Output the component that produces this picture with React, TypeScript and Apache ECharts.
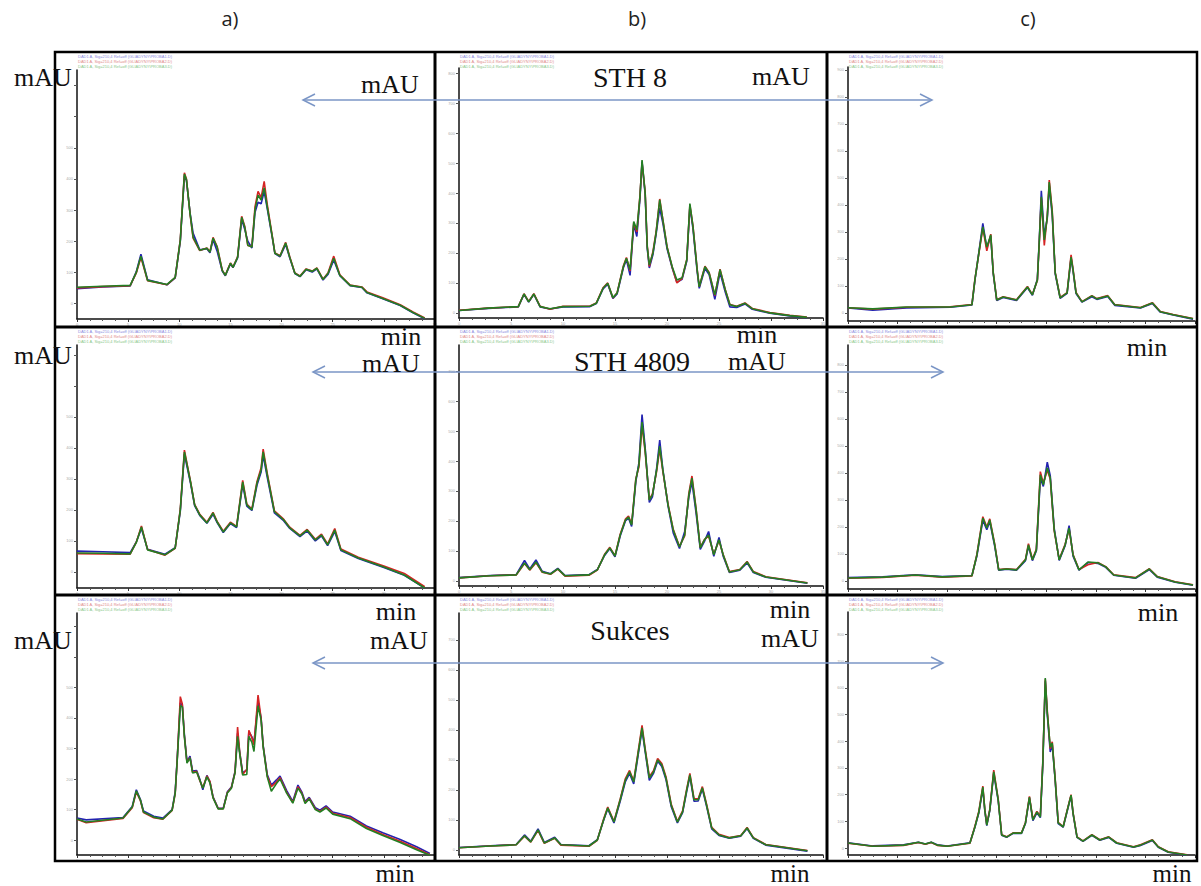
import React, { useEffect, useRef } from "react";
import * as echarts from "echarts";

// ---------- data (time in min, absorbance in mAU) ----------
const T_A1 = [0, 2.5, 5.2, 5.8, 6.25, 6.9, 8.8, 9.6, 10.1, 10.5, 10.7, 11.05, 11.35, 12.0, 12.7, 13.0, 13.3, 13.7, 14.2, 14.5, 15.0, 15.25, 15.7, 16.1, 16.4, 16.7, 17.1, 17.4, 17.7, 18.0, 18.3, 18.6, 19.1, 19.35, 19.85, 20.4, 20.8, 21.3, 21.8, 22.4, 23.0, 23.45, 24.05, 24.55, 25.1, 25.7, 26.7, 27.85, 28.35, 29.9, 31.6, 32.85, 34.0];
const A1_BLUE = [47, 53, 56, 102, 158, 76, 60, 82, 200, 410, 395, 292, 226, 172, 176, 163, 205, 168, 104, 89, 127, 115, 146, 270, 238, 200, 178, 292, 325, 320, 360, 305, 210, 160, 150, 190, 146, 96, 86, 108, 101, 111, 75, 94, 140, 89, 57, 51, 34, 15, -7, -30, -49];
const A1_RED = [50, 54, 57, 98, 148, 73, 60, 83, 205, 420, 400, 288, 210, 170, 178, 166, 212, 183, 107, 91, 130, 117, 150, 280, 248, 186, 183, 310, 360, 340, 392, 318, 215, 162, 153, 196, 150, 98, 88, 111, 104, 114, 78, 99, 152, 92, 59, 53, 37, 18, -4, -27, -47];
const A1_GREEN = [52, 55, 58, 100, 152, 74, 61, 84, 203, 416, 398, 290, 213, 171, 177, 165, 210, 181, 106, 90, 129, 116, 148, 277, 245, 187, 181, 300, 348, 332, 371, 310, 213, 161, 152, 194, 148, 97, 87, 110, 103, 113, 77, 97, 145, 90, 58, 52, 35, 16, -6, -29, -48];

const T_B1 = [0, 2.8, 5.7, 6.25, 6.7, 7.2, 7.8, 8.75, 10.0, 12.6, 13.2, 13.85, 14.3, 14.8, 15.2, 15.8, 16.1, 16.45, 16.8, 17.1, 17.4, 17.6, 17.9, 18.1, 18.3, 18.65, 18.95, 19.3, 19.6, 20.0, 20.5, 20.95, 21.45, 21.9, 22.2, 22.5, 22.9, 23.1, 23.65, 24.05, 24.6, 25.1, 25.6, 26.05, 26.7, 27.5, 28.2, 29.9, 31.8, 33.45];
const B1_BLUE = [8, 15, 20, 62, 36, 62, 20, 13, 20, 21, 31, 80, 96, 48, 63, 150, 178, 125, 295, 255, 380, 505, 395, 215, 150, 195, 262, 350, 300, 215, 150, 102, 112, 172, 355, 280, 138, 82, 148, 128, 45, 135, 70, 20, 18, 30, 12, -1, -10, -16];
const B1_RED = [9, 16, 21, 64, 38, 64, 22, 12, 22, 23, 33, 84, 100, 50, 67, 156, 185, 140, 300, 270, 392, 500, 405, 225, 155, 205, 270, 380, 312, 222, 152, 100, 115, 178, 360, 290, 146, 88, 156, 135, 58, 146, 78, 28, 22, 33, 15, 1, -8, -14];
const B1_GREEN = [8, 16, 21, 63, 37, 63, 21, 14, 21, 22, 32, 82, 99, 51, 66, 154, 182, 144, 305, 277, 387, 510, 400, 220, 160, 200, 267, 377, 310, 220, 154, 110, 117, 177, 365, 287, 144, 87, 154, 133, 60, 144, 77, 27, 21, 32, 14, 0, -9, -15];

const T_C1 = [0, 2.5, 5.9, 10.3, 12.5, 12.8, 13.2, 13.6, 14.0, 14.4, 14.65, 15.0, 15.65, 17.0, 18.1, 18.6, 19.1, 19.3, 19.5, 19.8, 20.1, 20.3, 20.6, 20.9, 21.4, 22.1, 22.5, 22.7, 23.0, 23.6, 24.6, 25.1, 26.2, 26.9, 29.5, 30.7, 31.5, 32.8, 34.8];
const C1_BLUE = [18, 10, 18, 21, 29, 120, 225, 332, 240, 285, 145, 46, 57, 46, 94, 65, 125, 275, 452, 285, 350, 470, 362, 145, 54, 72, 203, 155, 72, 40, 60, 50, 61, 28, 18, 35, 3, -8, -23];
const C1_RED = [19, 14, 21, 23, 31, 124, 220, 315, 230, 292, 150, 49, 60, 49, 98, 68, 120, 265, 425, 250, 360, 492, 378, 150, 57, 75, 215, 162, 76, 42, 64, 53, 64, 31, 20, 38, 5, -6, -21];
const C1_GREEN = [19, 15, 22, 22, 30, 122, 222, 319, 244, 289, 148, 48, 59, 48, 96, 67, 122, 270, 430, 270, 356, 485, 370, 148, 56, 74, 207, 159, 74, 41, 63, 52, 63, 30, 19, 37, 4, -7, -22];

const T_A2 = [0, 2.5, 5.2, 5.8, 6.3, 6.9, 8.6, 9.6, 10.1, 10.5, 11.1, 11.5, 12.0, 12.7, 13.3, 13.7, 14.3, 15.0, 15.6, 16.2, 16.6, 17.1, 17.6, 18.0, 18.2, 18.6, 19.3, 20.2, 20.8, 21.8, 22.5, 23.3, 23.9, 24.5, 25.2, 25.8, 27.5, 30.0, 32.0, 34.0];
const A2_BLUE = [67, 65, 62, 97, 140, 73, 57, 78, 196, 380, 286, 214, 182, 157, 186, 159, 127, 156, 143, 282, 212, 198, 280, 322, 376, 305, 190, 165, 140, 114, 132, 100, 116, 85, 130, 69, 43, 14, -11, -52];
const A2_RED = [59, 58, 57, 96, 148, 72, 54, 76, 203, 393, 292, 218, 186, 160, 192, 163, 131, 160, 147, 295, 219, 203, 292, 336, 396, 318, 197, 170, 144, 118, 137, 105, 122, 90, 140, 74, 47, 19, -5, -48];
const A2_GREEN = [61, 60, 58, 95, 145, 71, 55, 77, 200, 387, 290, 216, 184, 158, 190, 161, 129, 158, 145, 290, 216, 200, 287, 329, 387, 313, 194, 168, 142, 116, 135, 103, 119, 87, 135, 71, 45, 16, -10, -52];

const T_B2 = [0, 3, 5.5, 6.3, 6.8, 7.4, 8.0, 8.8, 9.5, 10.2, 12.5, 13.3, 14.0, 14.5, 15.0, 15.5, 16.0, 16.3, 16.6, 17.0, 17.3, 17.6, 17.9, 18.3, 18.6, 19.0, 19.3, 19.6, 20.1, 20.6, 21.2, 21.7, 22.1, 22.4, 22.8, 23.2, 23.6, 24.0, 24.5, 25.0, 25.4, 26.0, 27.0, 27.7, 28.3, 29.5, 31.5, 33.5];
const B2_BLUE = [11, 18, 21, 68, 40, 70, 32, 24, 42, 18, 21, 38, 85, 108, 80, 150, 200, 210, 182, 330, 395, 555, 445, 262, 280, 375, 470, 372, 250, 160, 108, 165, 280, 330, 225, 105, 132, 165, 82, 145, 82, 28, 36, 60, 28, 12, 2, -8];
const B2_RED = [10, 17, 20, 58, 36, 61, 29, 22, 39, 16, 19, 36, 89, 112, 84, 156, 206, 216, 190, 340, 380, 520, 430, 272, 290, 365, 440, 365, 256, 172, 115, 150, 292, 350, 240, 112, 138, 150, 90, 135, 88, 31, 38, 65, 31, 14, 4, -6];
const B2_GREEN = [10, 17, 20, 60, 37, 63, 30, 23, 40, 17, 20, 37, 87, 110, 83, 153, 203, 213, 187, 337, 387, 530, 437, 270, 287, 370, 450, 370, 253, 170, 113, 153, 287, 343, 237, 110, 137, 153, 87, 137, 87, 30, 37, 63, 30, 13, 3, -7];

const T_C2 = [0, 3.5, 6.8, 9.5, 12.5, 13.0, 13.6, 14.0, 14.3, 14.8, 15.2, 16.0, 17.0, 17.9, 18.2, 18.6, 19.0, 19.4, 19.7, 20.1, 20.4, 20.8, 21.3, 21.9, 22.3, 22.7, 23.3, 24.2, 25.2, 26.0, 26.8, 29.0, 30.4, 31.2, 33.0, 34.8];
const C2_BLUE = [12, 15, 23, 16, 20, 92, 225, 190, 220, 128, 40, 43, 40, 75, 128, 75, 112, 380, 350, 440, 390, 195, 76, 130, 205, 92, 40, 68, 65, 50, 21, 10, 42, 14, -5, -16];
const C2_RED = [10, 13, 21, 14, 18, 98, 238, 200, 230, 136, 42, 45, 42, 80, 138, 80, 118, 405, 362, 410, 378, 185, 80, 136, 192, 98, 42, 60, 68, 53, 23, 12, 45, 16, -3, -14];
const C2_GREEN = [11, 14, 22, 15, 19, 96, 233, 196, 226, 133, 41, 44, 41, 78, 133, 78, 115, 393, 356, 419, 381, 189, 78, 133, 196, 96, 41, 70, 67, 52, 22, 11, 44, 15, -4, -15];

const T_A3 = [0, 0.9, 4.5, 5.4, 5.8, 6.2, 6.5, 7.5, 8.4, 9.3, 9.6, 9.8, 10.1, 10.3, 10.5, 10.75, 11.05, 11.3, 11.7, 12.0, 12.3, 12.7, 13.0, 13.3, 13.8, 14.3, 14.7, 15.1, 15.45, 15.7, 15.9, 16.2, 16.6, 16.8, 17.1, 17.3, 17.7, 18.0, 18.2, 18.6, 19.0, 19.5, 19.85, 20.5, 21.1, 21.6, 22.0, 22.3, 22.7, 23.3, 23.75, 24.35, 25.0, 26.7, 28.3, 29.9, 31.6, 33.2, 34.5];
const A3_BLUE = [72, 66, 74, 110, 165, 133, 95, 78, 72, 100, 158, 268, 450, 440, 345, 258, 275, 226, 228, 200, 165, 212, 190, 142, 104, 104, 158, 174, 225, 350, 290, 220, 230, 355, 338, 318, 452, 400, 310, 215, 180, 197, 210, 162, 127, 180, 156, 126, 140, 106, 98, 112, 92, 78, 46, 24, 2, -22, -44];
const A3_RED = [68, 57, 71, 106, 158, 129, 90, 73, 68, 97, 152, 265, 470, 445, 340, 255, 270, 222, 225, 195, 172, 210, 192, 140, 103, 103, 156, 172, 222, 370, 290, 215, 232, 360, 335, 312, 475, 398, 308, 210, 175, 190, 205, 156, 123, 175, 152, 122, 137, 102, 94, 108, 88, 74, 42, 18, -4, -28, -48];
const A3_GREEN = [69, 59, 72, 108, 161, 131, 92, 75, 69, 98, 154, 262, 440, 436, 338, 252, 269, 220, 223, 197, 170, 207, 187, 138, 102, 102, 154, 170, 220, 340, 285, 213, 215, 340, 320, 290, 440, 393, 305, 207, 160, 185, 200, 154, 121, 170, 150, 120, 135, 100, 92, 105, 85, 70, 38, 15, -8, -32, -50];

const T_B3 = [0, 3, 5.5, 6.3, 6.9, 7.6, 8.2, 9.2, 9.8, 12.5, 13.3, 13.9, 14.3, 14.9, 15.5, 16.0, 16.4, 16.8, 17.2, 17.6, 17.9, 18.3, 18.7, 19.1, 19.5, 19.9, 20.4, 21.0, 21.5, 21.9, 22.2, 22.6, 23.0, 23.4, 23.8, 24.3, 25.0, 26.0, 27.1, 27.7, 28.3, 29.5, 31.5, 33.5];
const B3_BLUE = [8, 14, 18, 50, 29, 70, 25, 42, 18, 14, 34, 98, 137, 90, 162, 228, 255, 220, 310, 400, 328, 232, 255, 296, 278, 235, 145, 90, 124, 196, 245, 162, 163, 203, 146, 70, 48, 39, 46, 71, 39, 16, 6, -4];
const B3_RED = [7, 13, 17, 46, 26, 65, 22, 39, 16, 12, 32, 102, 143, 95, 170, 238, 265, 230, 322, 415, 338, 244, 264, 305, 288, 244, 153, 95, 130, 204, 255, 170, 170, 211, 153, 75, 52, 41, 48, 75, 41, 18, 8, -2];
const B3_GREEN = [7, 13, 17, 47, 27, 67, 23, 40, 17, 13, 33, 100, 140, 93, 167, 233, 260, 227, 317, 407, 333, 240, 260, 300, 283, 240, 150, 93, 127, 200, 250, 167, 167, 207, 150, 73, 50, 40, 47, 73, 40, 17, 7, -3];

const T_C3 = [0, 2.5, 5.6, 7.1, 7.8, 8.4, 9.0, 10.0, 12.3, 12.8, 13.2, 13.6, 13.8, 14.0, 14.3, 14.7, 15.15, 15.5, 16.0, 16.65, 17.5, 17.9, 18.3, 18.65, 19.05, 19.4, 19.65, 19.9, 20.1, 20.4, 20.6, 20.9, 21.2, 21.7, 22.2, 22.5, 22.7, 23.1, 23.7, 24.6, 25.4, 26.3, 27.1, 28.8, 29.5, 30.7, 31.3, 32.3, 34.2];
const C3_BLUE = [20, 8, 12, 22, 15, 22, 12, 8, 20, 78, 132, 222, 140, 84, 140, 280, 178, 48, 40, 55, 55, 92, 188, 103, 132, 114, 312, 625, 500, 360, 388, 252, 92, 78, 152, 195, 129, 40, 25, 48, 29, 40, 18, 3, 10, 28, 3, -16, -27];
const C3_RED = [18, 7, 10, 21, 14, 21, 10, 7, 18, 82, 138, 232, 145, 88, 145, 292, 183, 50, 42, 57, 57, 96, 194, 108, 137, 120, 325, 632, 515, 372, 398, 258, 96, 80, 156, 200, 133, 42, 27, 50, 31, 42, 20, 5, 12, 31, 5, -14, -25];
const C3_GREEN = [19, 7, 11, 22, 15, 22, 11, 7, 19, 79, 135, 228, 142, 86, 142, 285, 180, 49, 41, 56, 56, 94, 191, 105, 135, 116, 318, 637, 506, 378, 393, 255, 94, 79, 154, 198, 131, 41, 26, 49, 30, 41, 19, 4, 11, 30, 4, -15, -26];

const COLUMN_TITLES = ["a)", "b)", "c)"];
const VARIETIES = ["STH 8", "STH 4809", "Sukces"];
const X_TICKS = [0, 5, 10, 15, 20, 25, 30, 35];
const LEGEND_LINES = [
  "DAD1 A, Sig=210,4 Ref=off (GLIADYNY\\PROBA1.D)",
  "DAD1 A, Sig=210,4 Ref=off (GLIADYNY\\PROBA2.D)",
  "DAD1 A, Sig=210,4 Ref=off (GLIADYNY\\PROBA3.D)",
];

// ---------- layout ----------
const PANELS = [
  { t: T_A1, b: A1_BLUE, r: A1_RED, g: A1_GREEN, left: 77, width: 358, top: 70, bottom: 319, min: -50, max: 750, hideX: [30] },
  { t: T_B1, b: B1_BLUE, r: B1_RED, g: B1_GREEN, left: 459, width: 364, top: 68, bottom: 318, min: -17, max: 817, hideX: [30] },
  { t: T_C1, b: C1_BLUE, r: C1_RED, g: C1_GREEN, left: 848, width: 347, top: 67, bottom: 321, min: -30, max: 911, hideX: [] },
  { t: T_A2, b: A2_BLUE, r: A2_RED, g: A2_GREEN, left: 77, width: 358, top: 345, bottom: 588, min: -52, max: 732, hideX: [] },
  { t: T_B2, b: B2_BLUE, r: B2_RED, g: B2_GREEN, left: 459, width: 364, top: 345, bottom: 586, min: -17, max: 787, hideX: [] },
  { t: T_C2, b: C2_BLUE, r: C2_RED, g: C2_GREEN, left: 848, width: 347, top: 345, bottom: 589, min: -30, max: 874, hideX: [] },
  { t: T_A3, b: A3_BLUE, r: A3_RED, g: A3_GREEN, left: 77, width: 358, top: 613, bottom: 855, min: -49, max: 744, hideX: [30] },
  { t: T_B3, b: B3_BLUE, r: B3_RED, g: B3_GREEN, left: 459, width: 364, top: 613, bottom: 855, min: -17, max: 790, hideX: [30] },
  { t: T_C3, b: C3_BLUE, r: C3_RED, g: C3_GREEN, left: 848, width: 347, top: 612, bottom: 855, min: -26, max: 884, hideX: [30] },
];

const COL_X = [55, 435, 827, 1197];
const ROW_Y = [52, 327, 595, 861];
const SERIF = "Liberation Serif";
const ARROW_COLOR = "#7b96c6";

function buildOption() {
  const grid: any[] = [];
  const xAxis: any[] = [];
  const yAxis: any[] = [];
  const series: any[] = [];
  PANELS.forEach((p, i) => {
    const firstCol = i % 3 === 0;
    grid.push({ left: p.left, top: p.top, width: p.width, height: p.bottom - p.top, containLabel: false });
    xAxis.push({
      type: "value", gridIndex: i, min: X_TICKS[0], max: X_TICKS[X_TICKS.length - 1], interval: 5,
      axisLine: { onZero: false, lineStyle: { color: "#111", width: 1.5 } },
      axisTick: { show: true, length: 3, lineStyle: { color: "#333", width: 1 } },
      minorTick: { show: true, splitNumber: 4, length: 2, lineStyle: { color: "#555" } },
      axisLabel: {
        fontSize: 4, color: "#aaa", margin: 3,
        formatter: (v: number) => (p.hideX.indexOf(v) >= 0 ? "" : String(v)),
      },
      splitLine: { show: false },
    });
    yAxis.push({
      type: "value", gridIndex: i, min: p.min, max: p.max, splitNumber: Math.round((p.max - p.min) / 100),
      axisLine: { show: true, onZero: false, lineStyle: { color: "#111", width: 1.5 } },
      axisTick: { show: true, length: 3, lineStyle: { color: "#555", width: 1 } },
      axisLabel: {
        fontSize: 4, color: "#aaa", margin: 4, showMinLabel: false, showMaxLabel: false,
        formatter: (v: number) => (firstCol && v >= 600 ? "" : String(v)),
      },
      splitLine: { show: false },
    });
    const mk = (vals: number[], color: string, z: number) => ({
      type: "line", xAxisIndex: i, yAxisIndex: i, z,
      data: p.t.map((x, j) => [x, vals[j]]),
      showSymbol: false, symbol: "none", silent: true,
      lineStyle: { color, width: 1.6 }, itemStyle: { color },
    });
    series.push(mk(p.b, "#2323b0", 2), mk(p.r, "#d42424", 3), mk(p.g, "#237f23", 4));
  });

  const graphic: any[] = [];
  // frames
  graphic.push({ type: "rect", shape: { x: COL_X[0], y: ROW_Y[0], width: COL_X[3] - COL_X[0], height: ROW_Y[3] - ROW_Y[0] }, style: { fill: "none", stroke: "#000", lineWidth: 2.5 }, z: 10 });
  [COL_X[1], COL_X[2]].forEach((x) =>
    graphic.push({ type: "line", shape: { x1: x, y1: ROW_Y[0], x2: x, y2: ROW_Y[3] }, style: { stroke: "#000", lineWidth: 3 }, z: 10 })
  );
  [ROW_Y[1], ROW_Y[2]].forEach((y) =>
    graphic.push({ type: "line", shape: { x1: COL_X[0], y1: y, x2: COL_X[3], y2: y }, style: { stroke: "#000", lineWidth: 3 }, z: 10 })
  );

  const txt = (text: string, x: number, y: number, size = 26, font = SERIF, fill = "#111") => ({
    type: "text", x, y, z: 20,
    style: { text, fill, fontFamily: font, fontSize: size, lineHeight: Math.round(size * 0.8), textAlign: "center", textVerticalAlign: "middle" },
  });

  // column titles
  [230, 637, 1028].forEach((x, i) => graphic.push(txt(COLUMN_TITLES[i], x, 18, 20, "Open Sans", "#222")));

  // legends (tiny header lines)
  const legendColors = ["#8a8ae0", "#e08a8a", "#8ac88a"];
  PANELS.forEach((p, i) => {
    const row = Math.floor(i / 3);
    LEGEND_LINES.forEach((l, k) =>
      graphic.push({ type: "text", x: p.left + 1, y: ROW_Y[row] + 2 + k * 5, z: 20,
        style: { text: l, fill: legendColors[k], fontFamily: "Liberation Sans", fontSize: 4, textAlign: "left", textVerticalAlign: "top" } })
    );
  });

  // unit labels
  graphic.push(
    txt("mAU", 43, 77), txt("mAU", 390, 84), txt(VARIETIES[0], 630, 77, 28), txt("mAU", 781, 76),
    txt("min", 401, 336), txt("min", 757, 334), txt("min", 1147, 347),
    txt("mAU", 43, 355), txt("mAU", 391, 363), txt(VARIETIES[1], 632, 361, 28), txt("mAU", 757, 361),
    txt("min", 396, 611), txt("mAU", 399, 640), txt("mAU", 43, 640), txt(VARIETIES[2], 630, 630, 28),
    txt("min", 790, 609), txt("mAU", 790, 638), txt("min", 1158, 612),
    txt("min", 395, 873, 25), txt("min", 790, 873, 25), txt("min", 1172, 873, 25)
  );

  // arrows
  [
    [303, 932, 100],
    [313, 943, 372],
    [313, 943, 663],
  ].forEach(([x1, x2, y]) => {
    graphic.push({ type: "line", shape: { x1, y1: y, x2, y2: y }, style: { stroke: ARROW_COLOR, lineWidth: 1.5 }, z: 15 });
    graphic.push({ type: "polyline", shape: { points: [[x1 + 12, y - 6], [x1, y], [x1 + 12, y + 6]] }, style: { stroke: ARROW_COLOR, lineWidth: 1.5, fill: "none" }, z: 15 });
    graphic.push({ type: "polyline", shape: { points: [[x2 - 12, y - 6], [x2, y], [x2 - 12, y + 6]] }, style: { stroke: ARROW_COLOR, lineWidth: 1.5, fill: "none" }, z: 15 });
  });

  return { animation: false, backgroundColor: "#fff", grid, xAxis, yAxis, series, graphic };
}

export default function App() {
  const ref = useRef<HTMLDivElement>(null);
  useEffect(() => {
    const chart = echarts.init(ref.current as HTMLDivElement, null, { renderer: "svg" });
    chart.setOption(buildOption() as any);
    return () => chart.dispose();
  }, []);
  return (
    <div
      ref={ref}
      style={{ position: "absolute", left: 0, top: 0, width: 1201, height: 886, background: "#fff" }}
    />
  );
}
